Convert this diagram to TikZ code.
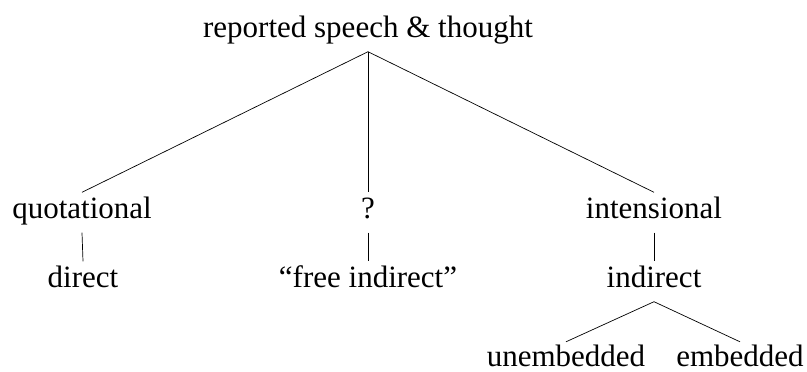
\documentclass[tikz,border=0pt]{standalone}
\usepackage{fontspec}
\setmainfont{Liberation Serif}
\begin{document}
\begin{tikzpicture}[x=1pt,y=-1pt,
  lab/.style={anchor=base, inner xsep=0pt, inner ysep=0pt, text height=25.5pt, text depth=14.5pt, font=\fontsize{31}{37}\selectfont},
  leaf/.style={lab, text height=24pt, text depth=1pt},
  edge/.style={draw=black, line width=0.7pt}]
\useasboundingbox (0,0) rectangle (807,372);
\node[lab] (root) at (368,37) {reported speech \& thought};
\node[lab] (quot) at (82,218) {quotational};
\node[lab] (q) at (368,218) {?};
\node[lab] (int) at (654,218) {intensional};
\node[lab] (dir) at (83,287) {direct};
\node[lab] (free) at (368,287) {“free indirect”};
\node[lab] (ind) at (654,287) {indirect};
\node[leaf] (unemb) at (566,366) {unembedded};
\node[leaf] (emb) at (740,366) {embedded};
\draw[edge] (root.south) -- (quot.north);
\draw[edge] (root.south) -- (q.north);
\draw[edge] (root.south) -- (int.north);
\draw[edge] (quot.south) -- (dir.north);
\draw[edge] (q.south) -- (free.north);
\draw[edge] (int.south) -- (ind.north);
\draw[edge] (ind.south) -- (unemb.north);
\draw[edge] (ind.south) -- (emb.north);
\end{tikzpicture}
\end{document}
